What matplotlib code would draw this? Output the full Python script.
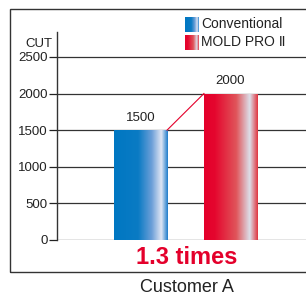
import numpy as np
import matplotlib
matplotlib.use("Agg")
import matplotlib.pyplot as plt
from matplotlib.colors import LinearSegmentedColormap
from matplotlib.patches import Rectangle

plt.rcParams['font.family'] = ['Liberation Sans', 'DejaVu Sans']

# data
categories = ["Conventional", "MOLD PRO \u2161"]
values = [1500, 2000]
yticks = [0, 500, 1000, 1500, 2000, 2500]
ratio_text = "1.3 times"
group_label = "Customer A"

blue_cmap = LinearSegmentedColormap.from_list(
    "blue", [(0, "#0077c2"), (0.45, "#0a7bc4"), (0.7, "#6c9fd8"),
             (0.88, "#dfe6f4"), (1.0, "#1f7ccb")])
red_cmap = LinearSegmentedColormap.from_list(
    "red", [(0, "#e4002b"), (0.2, "#e5062e"), (0.6, "#e0555a"),
            (0.85, "#dcdfea"), (1.0, "#e0343f")])
cmaps = [blue_cmap, red_cmap]

fig = plt.figure(figsize=(3.06, 2.95), dpi=100)

# outer frame
fig.patches.append(Rectangle((10 / 306, 23 / 295), 1.2, 263 / 295,
                             transform=fig.transFigure, fill=False,
                             edgecolor="#333333", linewidth=1.0))

ax = fig.add_axes([57 / 306, 55 / 295, 249 / 306, 208 / 295])
x = np.arange(len(values))
w = 0.59
bars = ax.bar(x, values, width=w, color="none", zorder=3)

grad = np.linspace(0, 1, 256).reshape(1, -1)
for b, cm, v in zip(bars, cmaps, values):
    x0, wd, h = b.get_x(), b.get_width(), b.get_height()
    im = ax.imshow(grad, cmap=cm, aspect="auto", extent=[x0, x0 + wd, 0, h],
                   zorder=3, interpolation="bilinear")
    im.set_clip_path(b)
    ax.text(x0 + wd / 2, h + 90, f"{v}",
            ha="center", va="bottom", fontsize=9.5, color="#222222")

# connector line between bar tops
ax.plot([x[0] + w / 2, x[1] - w / 2], [values[0], values[1]],
        color="#e4002b", linewidth=0.8, zorder=4)

ax.set_xlim(-0.928, 1.839)
ax.set_ylim(0, 2840)
ax.set_yticks(yticks)
ax.set_yticklabels([str(t) for t in yticks])
ax.tick_params(axis="y", length=6, width=0.9, pad=0.5, labelsize=9.5,
               colors="#222222")
ax.set_xticks([])
ax.grid(axis="y", color="#333333", linewidth=0.9, zorder=1)
ax.set_axisbelow(True)
for s in ["top", "right", "bottom"]:
    ax.spines[s].set_visible(False)
ax.spines["left"].set_color("#333333")
ax.spines["left"].set_linewidth(1.0)
ax.patch.set_alpha(0)

ax.text(-0.02, 2670, "CUT", transform=ax.get_yaxis_transform(),
        ha="right", va="center", fontsize=9.5, color="#222222")

# legend
for i, (lab, cm) in enumerate(zip(categories, cmaps)):
    top = 17 + i * 18
    lax = fig.add_axes([185 / 306, (295 - top - 15) / 295, 14 / 306, 15 / 295])
    lax.imshow(grad, cmap=cm, aspect="auto", interpolation="bilinear")
    lax.axis("off")
    fig.text(201 / 306, (295 - top - 7.5) / 295, lab, ha="left", va="center",
             fontsize=10, color="#222222")

fig.text(187 / 306, (295 - 257) / 295, ratio_text, ha="center", va="center",
         fontsize=17, fontweight="bold", color="#e4002b")
fig.text(187 / 306, (295 - 288) / 295, group_label, ha="center", va="center",
         fontsize=13, color="#222222")

fig.savefig("out.png", dpi=100)
